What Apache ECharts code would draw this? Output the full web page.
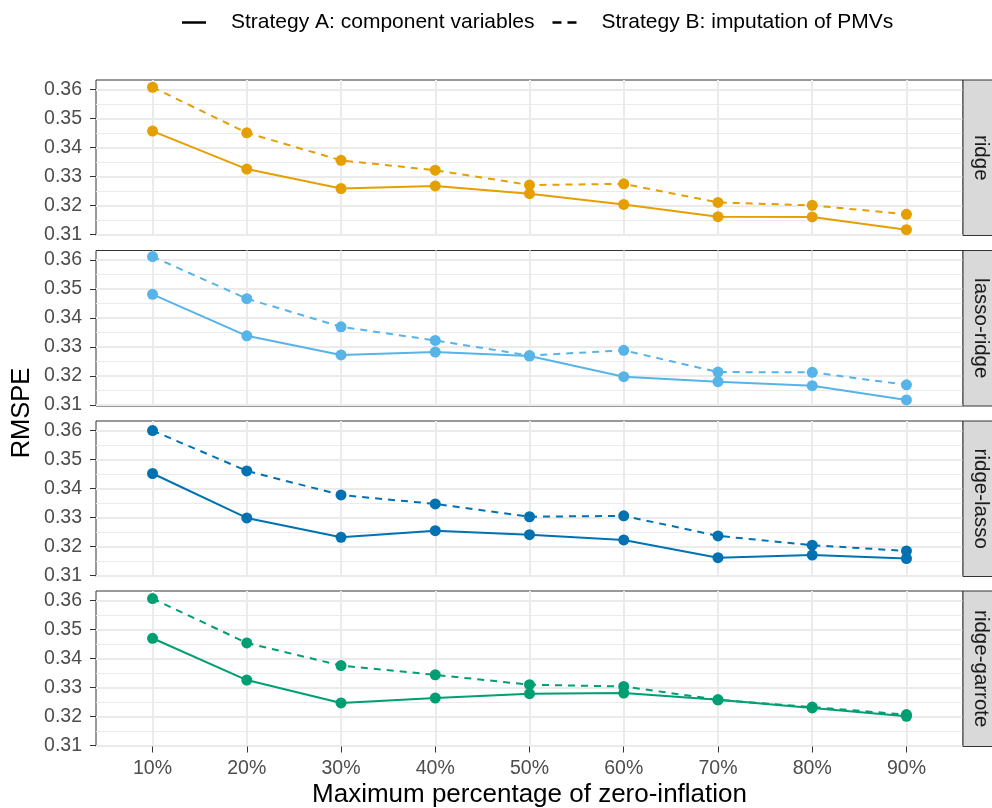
<!DOCTYPE html>
<html>
<head>
<meta charset="utf-8">
<script src="https://cdn.jsdelivr.net/npm/echarts@6/dist/echarts.min.js"></script>
<style>
  html, body { margin: 0; padding: 0; background: #fff; }
  #chart { width: 992px; height: 808px; }
</style>
</head>
<body>
<div id="chart"></div>
<script>
// categories and values
var xLabels = ['10%', '20%', '30%', '40%', '50%', '60%', '70%', '80%', '90%'];
var yTicks = [0.31, 0.32, 0.33, 0.34, 0.35, 0.36];
var yMinorTicks = [0.315, 0.325, 0.335, 0.345, 0.355];
var panels = ['ridge', 'lasso-ridge', 'ridge-lasso', 'ridge-garrote'];
var colors = ['#E69F00', '#56B4E9', '#0072B2', '#009E73'];

var ridgeA = [0.3456, 0.3325, 0.3258, 0.3267, 0.3240, 0.3203, 0.3161, 0.3160, 0.3116];
var ridgeB = [0.3607, 0.3450, 0.3355, 0.3321, 0.3270, 0.3274, 0.3210, 0.3200, 0.3169];
var lassoRidgeA = [0.3481, 0.3338, 0.3272, 0.3282, 0.3268, 0.3197, 0.3180, 0.3166, 0.3117];
var lassoRidgeB = [0.3611, 0.3466, 0.3369, 0.3322, 0.3270, 0.3288, 0.3213, 0.3212, 0.3169];
var ridgeLassoA = [0.3451, 0.3298, 0.3231, 0.3254, 0.3240, 0.3222, 0.3161, 0.3170, 0.3158];
var ridgeLassoB = [0.3599, 0.3460, 0.3377, 0.3346, 0.3302, 0.3305, 0.3236, 0.3204, 0.3184];
var ridgeGarroteA = [0.3469, 0.3325, 0.3246, 0.3263, 0.3278, 0.3280, 0.3257, 0.3229, 0.3200];
var ridgeGarroteB = [0.3606, 0.3453, 0.3375, 0.3343, 0.3309, 0.3303, 0.3257, 0.3232, 0.3206];

var seriesA = [ridgeA, lassoRidgeA, ridgeLassoA, ridgeGarroteA];
var seriesB = [ridgeB, lassoRidgeB, ridgeLassoB, ridgeGarroteB];
var legendNames = ['Strategy A: component variables', 'Strategy B: imputation of PMVs'];

var FONT = '"Liberation Sans", Arial, sans-serif';
var gridTops = [80, 250.5, 421, 591];
var gridH = 155.5;
var gridLeft = 96;
var gridRight = 963;
var xPos = [];
for (var i = 0; i < xLabels.length; i++) { xPos.push(i + 1); }

function toPairs(arr) {
    return arr.map(function (v, i) { return [xPos[i], v]; });
}

var grids = [], xAxes = [], yAxes = [], series = [], graphics = [];

panels.forEach(function (name, p) {
    grids.push({
        left: gridLeft, width: gridRight - gridLeft, top: gridTops[p], height: gridH,
        outerBoundsMode: 'none', containLabel: false,
        show: true, borderColor: '#333333', borderWidth: 1, backgroundColor: '#fff'
    });
    var last = p === panels.length - 1;
    xAxes.push({
        type: 'value', gridIndex: p, min: 0.4, max: 9.6,
        axisLine: { show: false },
        axisTick: { show: last, customValues: xPos, length: 6, lineStyle: { color: '#333', width: 1 } },
        axisLabel: {
            show: last, customValues: xPos, color: '#4D4D4D', fontSize: 19.5, fontFamily: FONT, margin: 12,
            formatter: function (v) { return xLabels[Math.round(v) - 1]; }
        },
        splitLine: { show: true, lineStyle: { color: '#EBEBEB', width: 2 } },
        name: last ? 'Maximum percentage of zero-inflation' : '',
        nameLocation: 'middle', nameGap: 35,
        nameTextStyle: { color: '#000', fontSize: 26, fontFamily: FONT }
    });
    yAxes.push({
        type: 'value', gridIndex: p, min: 0.3096, max: 0.3632,
        axisLine: { show: false },
        axisTick: { show: true, customValues: yTicks, length: 6, lineStyle: { color: '#333', width: 1 } },
        axisLabel: {
            customValues: yTicks, color: '#4D4D4D', fontSize: 19.5, fontFamily: FONT, margin: 14,
            formatter: function (v) { return v.toFixed(2); }
        },
        splitLine: { show: true, lineStyle: { color: '#EBEBEB', width: 2 } }
    });
    yAxes.push({
        type: 'value', gridIndex: p, min: 0.3096, max: 0.3632,
        axisLine: { show: false },
        axisTick: { show: false, customValues: yMinorTicks },
        axisLabel: { show: false, customValues: yMinorTicks },
        splitLine: { show: true, lineStyle: { color: '#EBEBEB', width: 1 } }
    });

    [seriesA[p], seriesB[p]].forEach(function (vals, k) {
        series.push({
            type: 'line', xAxisIndex: p, yAxisIndex: p * 2,
            data: toPairs(vals),
            symbol: 'circle', symbolSize: 11,
            itemStyle: { color: colors[p] },
            lineStyle: { color: colors[p], width: 2, type: k === 0 ? 'solid' : [7, 6] },
            silent: true, animation: false, z: 3
        });
    });

    // facet strip on the right
    graphics.push({
        type: 'rect', shape: { x: gridRight, y: gridTops[p], width: 40, height: gridH },
        style: { fill: '#D9D9D9', stroke: '#333333', lineWidth: 1 }, z: 10
    });
    graphics.push({
        type: 'text', x: 981, y: gridTops[p] + gridH / 2, rotation: -Math.PI / 2,
        style: { text: name, fill: '#1A1A1A', fontSize: 20.5, fontFamily: FONT, align: 'center', verticalAlign: 'middle' },
        z: 11
    });
});

// legend-only series (black keys)
legendNames.forEach(function (n, k) {
    series.push({
        type: 'line', name: n, xAxisIndex: 0, yAxisIndex: 0, data: [],
        symbol: 'none', itemStyle: { color: '#000' },
        lineStyle: { color: '#000', width: 2 }
    });
});

graphics.push({
    type: 'text', x: 22, y: 413, rotation: Math.PI / 2,
    style: { text: 'RMSPE', fill: '#000', fontSize: 25.5, fontFamily: FONT, align: 'center', verticalAlign: 'middle' }
});

var chart = echarts.init(document.getElementById('chart'), null, { renderer: 'canvas' });
chart.setOption({
    animation: false,
    backgroundColor: '#fff',
    legend: {
        data: [
            { name: legendNames[0], icon: 'path://M0,0H24V2.5H0Z' },
            { name: legendNames[1], icon: 'path://M0,0H9V2.5H0Z M15,0H24V2.5H15Z' }
        ],
        top: 7, left: 177,
        itemWidth: 24, itemHeight: 2.5, itemGap: 18,
        textStyle: { color: '#000', fontSize: 21, fontFamily: FONT, padding: [0, 0, 0, 20] }
    },
    grid: grids,
    xAxis: xAxes,
    yAxis: yAxes,
    series: series,
    graphic: graphics
});
</script>
</body>
</html>
